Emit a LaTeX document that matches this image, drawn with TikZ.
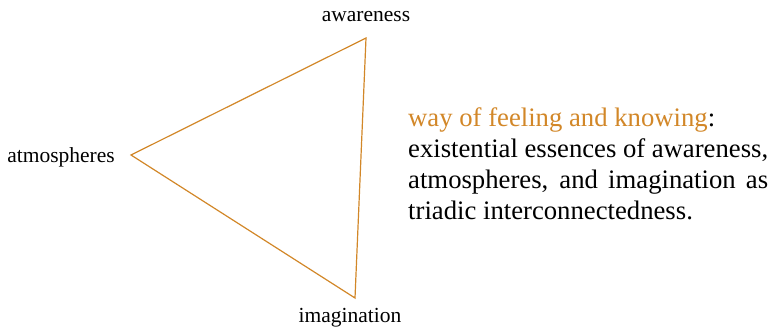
\documentclass[tikz,border=0pt]{standalone}
\usepackage{fontspec}
\setmainfont{Liberation Serif}
\definecolor{tri}{RGB}{210,135,40}
\tikzset{
  lbl/.style={font=\fontsize{21.5}{24}\selectfont, inner sep=0pt, anchor=base},
  edge/.style={draw=tri, line width=1.2pt, line join=miter}
}
\begin{document}
\begin{tikzpicture}[x=1pt,y=-1pt]
\useasboundingbox (0,0) rectangle (772,329);
\coordinate (T) at (366,38);
\coordinate (L) at (131,155);
\coordinate (B) at (355,298);
\draw[edge] (T) -- (L) -- (B) -- cycle;
\node[lbl] (aw) at (366,22) {awareness};
\node[lbl, anchor=base east] (at) at (115,162) {atmospheres};
\node[lbl] (im) at (350,322) {imagination};
\node[inner sep=0pt, anchor=north west, text width=360pt, align=justify,
  font=\fontsize{26.7}{31}\selectfont] (txt) at (408,108)
  {\textcolor{tri}{way of feeling and knowing}:\\
   existential essences of awareness,\linebreak
   atmospheres, and imagination as\linebreak
   triadic interconnectedness.};
\end{tikzpicture}
\end{document}
